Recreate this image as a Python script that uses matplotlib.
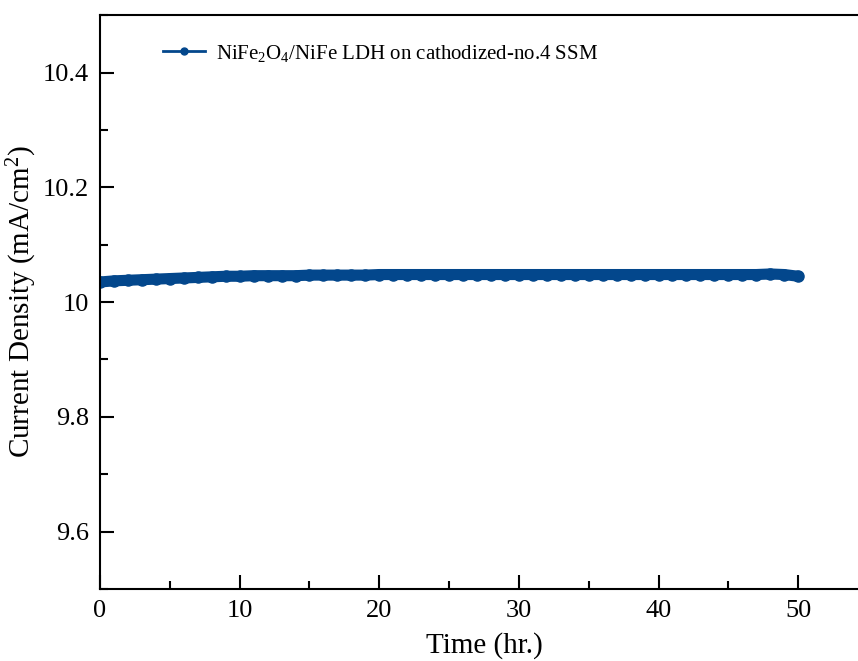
import matplotlib.pyplot as plt
from matplotlib.lines import Line2D
from matplotlib.ticker import MultipleLocator

plt.rcParams['font.family'] = 'Liberation Serif'
plt.rcParams['mathtext.fontset'] = 'custom'
plt.rcParams['mathtext.rm'] = 'Liberation Serif'
plt.rcParams['mathtext.it'] = 'Liberation Serif:italic'

# time (hr.) and current density (mA/cm^2)
time_hr = list(range(0, 51))
current = [10.035, 10.037, 10.038, 10.039, 10.040, 10.041, 10.042, 10.043, 10.044, 10.045,
           10.045, 10.046, 10.046, 10.046, 10.046, 10.047, 10.047, 10.047, 10.047, 10.047,
           10.048, 10.048, 10.048, 10.048, 10.048, 10.048, 10.048, 10.048, 10.048, 10.048,
           10.048, 10.048, 10.048, 10.048, 10.048, 10.048, 10.048, 10.048, 10.048, 10.048,
           10.048, 10.048, 10.048, 10.048, 10.048, 10.048, 10.048, 10.048, 10.049, 10.048,
           10.045]
series_label = 'NiFe$_2$O$_4$/NiFe LDH on cathodized-no.4 SSM'
color = '#03478c'

fig = plt.figure(figsize=(8.58, 6.61), dpi=100)
ax = fig.add_axes([0.1166, 0.109, 0.895, 0.868])

ax.plot(time_hr, current, color=color, linewidth=8, marker='o', markersize=8,
        solid_capstyle='round')

ax.set_xlim(0, 55)
ax.set_ylim(9.5, 10.5)
ax.xaxis.set_major_locator(MultipleLocator(10))
ax.xaxis.set_minor_locator(MultipleLocator(5))
ax.yaxis.set_minor_locator(MultipleLocator(0.1))
ax.set_yticks([9.6, 9.8, 10.0, 10.2, 10.4])
ax.set_yticklabels(['9.6', '9.8', '10', '10.2', '10.4'])

ax.tick_params(which='both', direction='in', labelsize=19, width=1.5)
ax.tick_params(which='major', length=10, pad=8)
ax.tick_params(which='minor', length=6)
for s in ax.spines.values():
    s.set_linewidth(1.5)

ax.set_xlabel('Time (hr.)', fontsize=21, labelpad=7)
ax.set_ylabel('Current Density (mA/cm$^2$)', fontsize=21, labelpad=3)

handle = Line2D([], [], color=color, linewidth=2, marker='o', markersize=5)
ax.legend([handle], [series_label], loc='upper left', frameon=False, fontsize=15,
          bbox_to_anchor=(0.058, 0.985), handlelength=2.0, handletextpad=0.55)

fig.savefig('out.png', dpi=100)
